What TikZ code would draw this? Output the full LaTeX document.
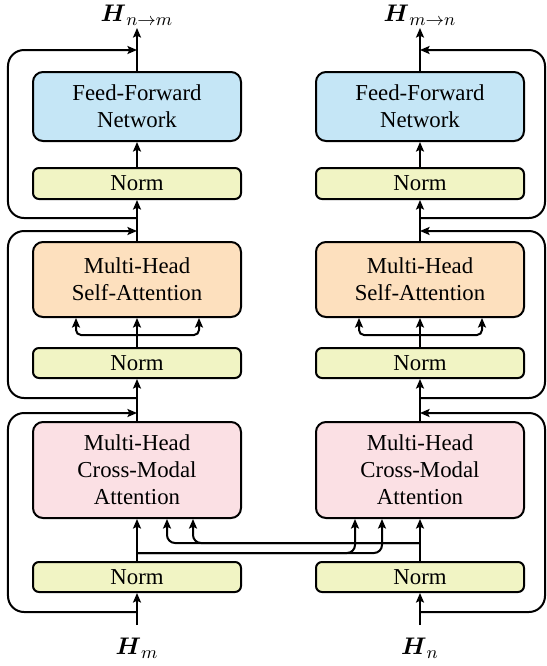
\documentclass[tikz,border=0pt]{standalone}
\usepackage{amsmath}
\usepackage{fontspec}
\setmainfont{Liberation Serif}
\usetikzlibrary{arrows.meta,calc}
\definecolor{ffncol}{RGB}{197,230,246}
\definecolor{sacol}{RGB}{253,224,190}
\definecolor{cmacol}{RGB}{251,224,228}
\definecolor{normcol}{RGB}{241,244,196}
\tikzset{
  bigbox/.style={draw=black, line width=1pt, rounded corners=5pt, minimum width=104pt,
    align=center, inner sep=0pt, font=\fontsize{11.4}{13.5}\selectfont},
  normbox/.style={draw=black, line width=1pt, rounded corners=3pt, minimum width=104pt,
    minimum height=15.5pt, fill=normcol, inner sep=0pt, font=\fontsize{11.4}{13.5}\selectfont},
  conn/.style={line width=1pt},
  arr/.style={conn, -{Stealth[length=4.8pt,width=4pt,inset=1pt]}},
  lbl/.style={inner sep=0pt, font=\fontsize{12.5}{14}\selectfont},
}
\begin{document}
\begin{tikzpicture}[x=0.5pt,y=-0.5pt]
\useasboundingbox (0,0) rectangle (547,666);

% ---------- left column ----------
\node[bigbox, fill=ffncol, minimum height=34.5pt] (ffnL) at (137,106.5) {Feed-Forward\\Network};
\node[normbox] (normL1) at (137,183.5) {Norm};
\node[bigbox, fill=sacol, minimum height=37.5pt] (saL) at (137,279.5) {Multi-Head\\Self-Attention};
\node[normbox, minimum height=15pt] (normL2) at (137,363) {Norm};
\node[bigbox, fill=cmacol, minimum height=48pt] (cmaL) at (137,470) {Multi-Head\\Cross-Modal\\Attention};
\node[normbox, minimum height=15pt] (normL3) at (137,577) {Norm};
\node[lbl] (outL) at (137,15) {$\boldsymbol{H}_{n\rightarrow m}$};
\node[lbl] (inL) at (137,648) {$\boldsymbol{H}_{m}$};

% ---------- right column ----------
\node[bigbox, fill=ffncol, minimum height=34.5pt] (ffnR) at (420,106.5) {Feed-Forward\\Network};
\node[normbox] (normR1) at (420,183.5) {Norm};
\node[bigbox, fill=sacol, minimum height=37.5pt] (saR) at (420,279.5) {Multi-Head\\Self-Attention};
\node[normbox, minimum height=15pt] (normR2) at (420,363) {Norm};
\node[bigbox, fill=cmacol, minimum height=48pt] (cmaR) at (420,470) {Multi-Head\\Cross-Modal\\Attention};
\node[normbox, minimum height=15pt] (normR3) at (420,577) {Norm};
\node[lbl] (outR) at (420,15) {$\boldsymbol{H}_{m\rightarrow n}$};
\node[lbl] (inR) at (420,648) {$\boldsymbol{H}_{n}$};

% ---------- coordinates ----------
\foreach \s/\x in {L/137,R/420}{
  \coordinate (top\s) at (\x,28);
  \coordinate (bot\s) at (\x,625);
  \coordinate (o1\s) at (\x,218);  \coordinate (i1\s) at (\x,50);
  \coordinate (o2\s) at (\x,398);  \coordinate (i2\s) at (\x,231);
  \coordinate (o3\s) at (\x,612);  \coordinate (i3\s) at (\x,413);
  \coordinate (br\s) at (\x,335);
}
\coordinate (sideL) at (8,0);
\coordinate (sideR) at (545,0);

% ---------- main vertical lines ----------
\foreach \s in {L,R}{
  \draw[arr] (ffn\s.north) -- (top\s);
  \draw[arr] (norm\s1.north) -- (ffn\s.south);
  \draw[arr] (sa\s.north) -- (norm\s1.south);
  \draw[arr] (norm\s2.north) -- (sa\s.south);
  \draw[arr, rounded corners=2.5pt] (br\s) -- ($(br\s)+(-61,0)$) -- ($(sa\s.south)+(-61,0)$);
  \draw[arr, rounded corners=2.5pt] (br\s) -- ($(br\s)+(62,0)$) -- ($(sa\s.south)+(62,0)$);
  \draw[arr] (cma\s.north) -- (norm\s2.south);
  \draw[arr] (norm\s3.north) -- (cma\s.south);
  \draw[arr] (bot\s) -- (norm\s3.south);
}

% ---------- residual loops ----------
\foreach \k in {1,2,3}{
  \draw[arr, rounded corners=8pt] (o\k L) -- (sideL |- o\k L) -- (sideL |- i\k L) -- (i\k L);
  \draw[arr, rounded corners=8pt] (o\k R) -- (sideR |- o\k R) -- (sideR |- i\k R) -- (i\k R);
}

% ---------- cross-modal connections ----------
\coordinate (xL) at (137,553);
\coordinate (xR) at (420,543);
\draw[arr, rounded corners=4pt] (xL) -- (355,553) -- (355,0 |- cmaR.south);
\draw[arr, rounded corners=4pt] (xL) -- (382,553) -- (382,0 |- cmaR.south);
\draw[arr, rounded corners=4pt] (xR) -- (167,543) -- (167,0 |- cmaL.south);
\draw[arr, rounded corners=4pt] (xR) -- (193,543) -- (193,0 |- cmaL.south);
\end{tikzpicture}
\end{document}
